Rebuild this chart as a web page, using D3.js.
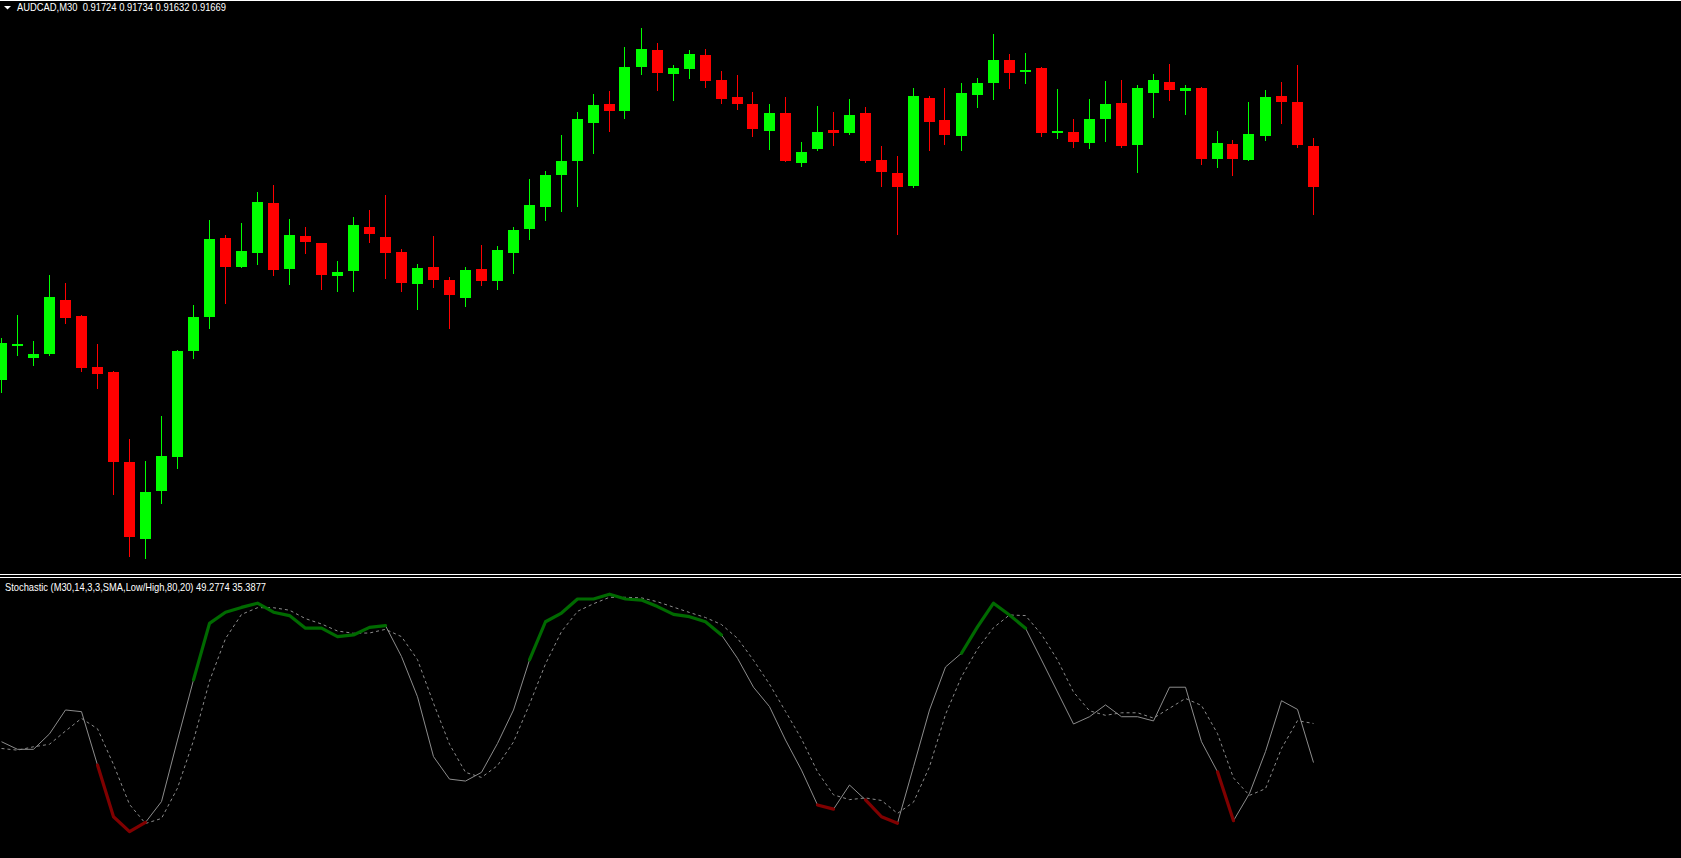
<!DOCTYPE html>
<html><head><meta charset="utf-8">
<script src="https://cdn.jsdelivr.net/npm/d3@7"></script>
<style>
html,body{margin:0;padding:0;background:#000;overflow:hidden}
svg{display:block}
text{font-family:"Liberation Sans",Arial,sans-serif;font-size:11px;fill:#fff;white-space:pre}
</style></head><body>
<svg id="chart" width="1681" height="858"></svg>
<script>
// ---------- DATA ----------
const symbolTitle = "AUDCAD,M30";
const lastQuote = ["0.91724", "0.91734", "0.91632", "0.91669"];
const stochTitle = "Stochastic (M30,14,3,3,SMA,Low/High,80,20)";
const stochLast = ["49.2774", "35.3877"];
const stochLevels = [80, 20];

const openPrices = [0.91410,0.91457,0.91439,0.91445,0.91517,0.91496,0.91427,0.91421,0.91300,0.91197,
0.91261,0.91307,0.91449,0.91494,0.91600,0.91561,0.91580,0.91647,0.91559,0.91603,
0.91593,0.91549,0.91556,0.91615,0.91601,0.91581,0.91538,0.91561,0.91544,0.91520,
0.91559,0.91542,0.91580,0.91612,0.91642,0.91685,0.91703,0.91754,0.91780,0.91770,
0.91829,0.91852,0.91820,0.91826,0.91845,0.91812,0.91789,0.91780,0.91743,0.91768,
0.91701,0.91719,0.91745,0.91741,0.91768,0.91705,0.91687,0.91670,0.91788,0.91758,
0.91737,0.91792,0.91808,0.91839,0.91822,0.91828,0.91741,0.91742,0.91727,0.91760,
0.91781,0.91725,0.91794,0.91809,0.91797,0.91801,0.91706,0.91726,0.91705,0.91737,
0.91790,0.91782,0.91724];
const highPrices = [0.91466,0.91497,0.91462,0.91550,0.91540,0.91497,0.91458,0.91422,0.91331,0.91301,
0.91362,0.91450,0.91510,0.91624,0.91604,0.91620,0.91662,0.91671,0.91626,0.91615,
0.91593,0.91569,0.91628,0.91638,0.91658,0.91585,0.91565,0.91603,0.91548,0.91561,
0.91591,0.91589,0.91615,0.91679,0.91690,0.91738,0.91769,0.91793,0.91797,0.91856,
0.91881,0.91861,0.91832,0.91852,0.91853,0.91824,0.91818,0.91796,0.91780,0.91789,
0.91729,0.91777,0.91769,0.91786,0.91776,0.91723,0.91710,0.91801,0.91790,0.91801,
0.91808,0.91815,0.91873,0.91847,0.91848,0.91829,0.91800,0.91760,0.91786,0.91810,
0.91812,0.91805,0.91820,0.91833,0.91805,0.91802,0.91743,0.91731,0.91782,0.91798,
0.91809,0.91832,0.91734];
const lowPrices = [0.91394,0.91443,0.91430,0.91443,0.91486,0.91422,0.91399,0.91257,0.91174,0.91171,
0.91245,0.91292,0.91439,0.91479,0.91513,0.91561,0.91565,0.91550,0.91538,0.91580,
0.91532,0.91529,0.91529,0.91595,0.91546,0.91529,0.91505,0.91534,0.91479,0.91509,
0.91537,0.91532,0.91553,0.91599,0.91624,0.91636,0.91643,0.91714,0.91743,0.91761,
0.91820,0.91798,0.91785,0.91814,0.91802,0.91781,0.91773,0.91737,0.91719,0.91703,
0.91697,0.91718,0.91725,0.91739,0.91702,0.91670,0.91605,0.91668,0.91718,0.91726,
0.91718,0.91776,0.91786,0.91801,0.91808,0.91737,0.91734,0.91722,0.91721,0.91730,
0.91722,0.91689,0.91762,0.91785,0.91766,0.91699,0.91695,0.91685,0.91705,0.91731,
0.91754,0.91722,0.91632];
const closePrices = [0.91459,0.91458,0.91445,0.91521,0.91493,0.91426,0.91418,0.91300,0.91199,0.91260,
0.91308,0.91449,0.91494,0.91599,0.91561,0.91583,0.91648,0.91557,0.91604,0.91595,
0.91550,0.91554,0.91617,0.91605,0.91580,0.91540,0.91560,0.91544,0.91524,0.91557,
0.91542,0.91584,0.91611,0.91644,0.91685,0.91703,0.91760,0.91778,0.91770,0.91829,
0.91853,0.91821,0.91828,0.91847,0.91810,0.91786,0.91780,0.91746,0.91768,0.91703,
0.91715,0.91742,0.91741,0.91765,0.91703,0.91689,0.91668,0.91790,0.91756,0.91738,
0.91794,0.91808,0.91839,0.91821,0.91825,0.91741,0.91743,0.91729,0.91760,0.91780,
0.91723,0.91801,0.91812,0.91798,0.91801,0.91706,0.91727,0.91706,0.91739,0.91789,
0.91782,0.91725,0.91669];

const stochMain = [42.8,40.1,40.1,45.6,54.1,53.5,34.5,16.1,10.8,14.1,
21.5,43.4,64.8,84.9,88.9,90.6,92.1,88.9,87.7,83.2,
83.2,80.2,80.8,83.5,84.1,73.1,58.8,37.5,29.5,28.8,
31.9,42.2,54.1,71.9,85.5,88.6,93.6,93.6,95.3,93.6,
93.2,90.9,88.1,87.3,85.5,80.8,72.5,62.2,55.3,43.4,
32.7,20.3,18.8,27.4,22.1,16.1,13.8,33.9,54.1,69.4,
74.3,83.7,92.1,87.9,83.2,71.9,60.5,49.1,51.7,55.9,
51.7,51.7,50.2,62.2,62.2,42.8,32.1,14.7,24.4,39.3,
57.4,54.3,35.39];
const stochSignal = [40.4,39.8,41.0,41.9,46.6,51.1,47.4,34.7,20.5,13.7,
15.5,26.3,43.2,64.4,79.5,88.1,90.5,90.5,89.6,86.6,
84.7,82.2,81.4,81.5,82.8,80.2,72.0,56.5,41.9,31.9,
30.1,34.3,42.7,56.1,70.5,82.0,89.2,91.9,94.2,94.2,
94.0,92.6,90.7,88.8,87.0,84.5,79.6,71.8,63.3,53.6,
43.8,32.1,23.9,22.2,22.8,21.9,17.3,21.3,33.9,52.5,
65.9,75.8,83.4,87.9,87.7,81.0,71.9,60.5,53.8,52.2,
53.1,53.1,51.2,54.7,58.2,55.7,45.7,29.9,23.7,26.1,
40.4,50.3,49.28];

// ---------- LAYOUT ----------
const W = 1681, H = 858;
const mainBottom = 574, subTop = 578;
const svg = d3.select("#chart");
svg.append("rect").attr("width", W).attr("height", H).attr("fill", "#000");

const bars = openPrices.map((o, i) => ({i, o, h: highPrices[i], l: lowPrices[i], c: closePrices[i]}));
const x = d3.scaleLinear().domain([0, bars.length - 1]).range([1.5, 1.5 + 16 * (bars.length - 1)]);
const y = d3.scaleLinear().domain([0.91919 - mainBottom * 0.0000134, 0.91919]).range([mainBottom, 0]);
const ys = d3.scaleLinear().domain([0, 100]).range([862, 581]);

const defs = svg.append("defs");
defs.append("clipPath").attr("id", "mainClip").append("rect").attr("x", 0).attr("y", 1).attr("width", W).attr("height", mainBottom - 1);
defs.append("clipPath").attr("id", "subClip").append("rect").attr("x", 0).attr("y", subTop).attr("width", W).attr("height", H - subTop);

// frame lines
svg.append("line").attr("x1", 0).attr("x2", W).attr("y1", 0.5).attr("y2", 0.5).attr("stroke", "#fff").attr("stroke-width", 1);
svg.append("line").attr("x1", 0).attr("x2", W).attr("y1", mainBottom + 0.5).attr("y2", mainBottom + 0.5).attr("stroke", "#fff");
svg.append("line").attr("x1", 0).attr("x2", W).attr("y1", subTop - 0.5).attr("y2", subTop - 0.5).attr("stroke", "#fff");

// ---------- CANDLES ----------
const bull = "#00ff00", bear = "#ff0000";
const gMain = svg.append("g").attr("clip-path", "url(#mainClip)").attr("shape-rendering", "crispEdges");
const cand = gMain.selectAll("g.c").data(bars).join("g").attr("class", "c");
cand.append("rect")
  .attr("x", d => Math.round(x(d.i)) - 1)
  .attr("width", 1)
  .attr("y", d => Math.round(y(d.h)))
  .attr("height", d => Math.max(1, Math.round(y(d.l)) - Math.round(y(d.h)) + 1))
  .attr("fill", d => d.c >= d.o ? bull : bear);
cand.append("rect")
  .attr("x", d => Math.round(x(d.i)) - 6)
  .attr("width", 11)
  .attr("y", d => Math.round(y(Math.max(d.o, d.c))))
  .attr("height", d => Math.max(2, Math.round(y(Math.min(d.o, d.c))) - Math.round(y(Math.max(d.o, d.c)))))
  .attr("fill", d => d.c >= d.o ? bull : bear);

// ---------- STOCHASTIC ----------
const gSub = svg.append("g").attr("clip-path", "url(#subClip)");
const line = d3.line().x(d => x(d.i)).y(d => ys(d.v));
const mainPts = stochMain.map((v, i) => ({i, v}));
const sigPts = stochSignal.map((v, i) => ({i, v}));
gSub.append("path").attr("d", line(sigPts)).attr("fill", "none")
  .attr("stroke", "#8c8c8c").attr("stroke-width", 1).attr("stroke-dasharray", "3,3");
gSub.append("path").attr("d", line(mainPts)).attr("fill", "none")
  .attr("stroke", "#8c8c8c").attr("stroke-width", 1);

function runs(test) {
  const out = []; let cur = null;
  for (let k = 1; k < stochMain.length; k++) {
    if (test(stochMain[k])) {
      if (!cur) { cur = [mainPts[k - 1]]; out.push(cur); }
      cur.push(mainPts[k]);
    } else cur = null;
  }
  return out;
}
gSub.selectAll("path.up").data(runs(v => v > stochLevels[0])).join("path").attr("class", "up")
  .attr("d", line).attr("fill", "none").attr("stroke", "#006a00").attr("stroke-width", 3.2)
  .attr("stroke-linejoin", "round").attr("stroke-linecap", "round");
gSub.selectAll("path.dn").data(runs(v => v < stochLevels[1])).join("path").attr("class", "dn")
  .attr("d", line).attr("fill", "none").attr("stroke", "#800000").attr("stroke-width", 3.2)
  .attr("stroke-linejoin", "round").attr("stroke-linecap", "round");

// ---------- TEXT ----------
svg.append("path").attr("d", "M4,6 L11,6 L7.5,9.5 Z").attr("fill", "#fff");
svg.append("text").attr("x", 17).attr("y", 11)
  .attr("textLength", 209).attr("lengthAdjust", "spacingAndGlyphs")
  .text(symbolTitle + "  " + lastQuote.join(" "));
svg.append("text").attr("x", 5).attr("y", 591)
  .attr("textLength", 261).attr("lengthAdjust", "spacingAndGlyphs")
  .text(stochTitle + " " + stochLast.join(" "));
</script>
</body></html>
